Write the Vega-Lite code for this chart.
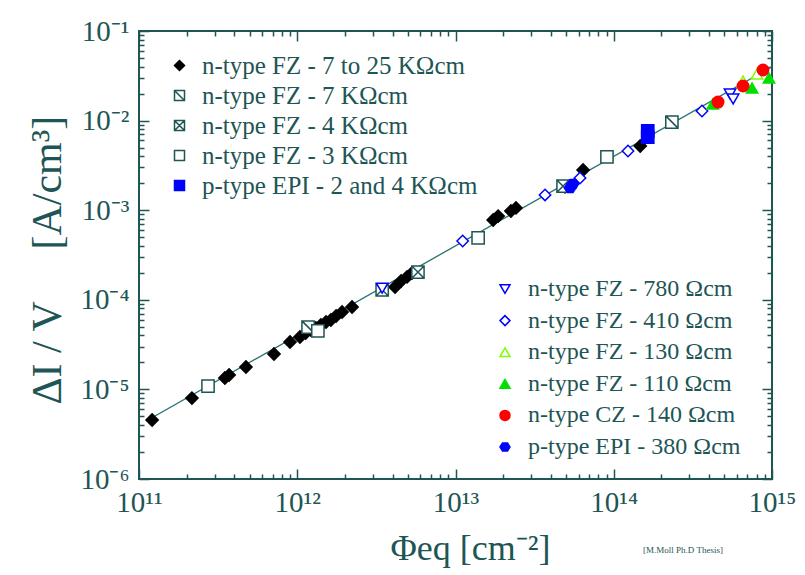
{
  "$schema": "https://vega.github.io/schema/vega-lite/v6.json",
  "width": 633,
  "height": 448,
  "autosize": {"type": "none"},
  "padding": {"left": 139, "top": 31, "right": 33, "bottom": 96},
  "background": "white",
  "config": {
    "font": "Times New Roman, Liberation Serif, serif",
    "view": {"stroke": "#1e5555", "strokeWidth": 2},
    "axis": {
      "labelFont": "Times New Roman, Liberation Serif, serif",
      "titleFont": "Times New Roman, Liberation Serif, serif",
      "labelColor": "#1e5555",
      "titleColor": "#1e5555",
      "tickColor": "#1e5555",
      "tickWidth": 1.5,
      "domain": false,
      "grid": false,
      "titleFontWeight": "normal"
    },
    "legend": {
      "labelFont": "Times New Roman, Liberation Serif, serif",
      "labelFontSize": 25,
      "labelColor": "#1e5555",
      "labelOffset": 10,
      "labelLimit": 0,
      "symbolStrokeWidth": 1.5,
      "symbolSize": 100,
      "padding": 0,
      "titlePadding": 0
    }
  },
  "title": {
    "text": "[M.Moll Ph.D Thesis]",
    "orient": "bottom",
    "anchor": "end",
    "fontSize": 9,
    "font": "Times New Roman, Liberation Serif, serif",
    "fontWeight": "normal",
    "color": "#1e5555",
    "dx": -73,
    "dy": -24
  },
  "datasets": {
    "fit": [
      {"phi": 1.2e11, "dv": 4.8e-6},
      {"phi": 1e15, "dv": 4e-2}
    ],
    "g1": [
      {"phi": 1.21e11, "dv": 4.55e-6, "series": "n-type FZ - 7 to 25 KΩcm"},
      {"phi": 2.16e11, "dv": 8.0e-6, "series": "n-type FZ - 7 to 25 KΩcm"},
      {"phi": 3.49e11, "dv": 1.34e-5, "series": "n-type FZ - 7 to 25 KΩcm"},
      {"phi": 3.71e11, "dv": 1.45e-5, "series": "n-type FZ - 7 to 25 KΩcm"},
      {"phi": 4.74e11, "dv": 1.78e-5, "series": "n-type FZ - 7 to 25 KΩcm"},
      {"phi": 7.13e11, "dv": 2.48e-5, "series": "n-type FZ - 7 to 25 KΩcm"},
      {"phi": 9.0e11, "dv": 3.38e-5, "series": "n-type FZ - 7 to 25 KΩcm"},
      {"phi": 1.04e12, "dv": 3.85e-5, "series": "n-type FZ - 7 to 25 KΩcm"},
      {"phi": 1.13e12, "dv": 4.25e-5, "series": "n-type FZ - 7 to 25 KΩcm"},
      {"phi": 1.22e12, "dv": 4.6e-5, "series": "n-type FZ - 7 to 25 KΩcm"},
      {"phi": 1.31e12, "dv": 4.85e-5, "series": "n-type FZ - 7 to 25 KΩcm"},
      {"phi": 1.41e12, "dv": 5.23e-5, "series": "n-type FZ - 7 to 25 KΩcm"},
      {"phi": 1.52e12, "dv": 5.65e-5, "series": "n-type FZ - 7 to 25 KΩcm"},
      {"phi": 1.63e12, "dv": 5.95e-5, "series": "n-type FZ - 7 to 25 KΩcm"},
      {"phi": 1.76e12, "dv": 6.6e-5, "series": "n-type FZ - 7 to 25 KΩcm"},
      {"phi": 1.92e12, "dv": 7.3e-5, "series": "n-type FZ - 7 to 25 KΩcm"},
      {"phi": 2.22e12, "dv": 8.3e-5, "series": "n-type FZ - 7 to 25 KΩcm"},
      {"phi": 4.15e12, "dv": 1.39e-4, "series": "n-type FZ - 7 to 25 KΩcm"},
      {"phi": 4.53e12, "dv": 1.62e-4, "series": "n-type FZ - 7 to 25 KΩcm"},
      {"phi": 4.94e12, "dv": 1.8e-4, "series": "n-type FZ - 7 to 25 KΩcm"},
      {"phi": 5.31e12, "dv": 1.99e-4, "series": "n-type FZ - 7 to 25 KΩcm"},
      {"phi": 1.73e13, "dv": 7.78e-4, "series": "n-type FZ - 7 to 25 KΩcm"},
      {"phi": 1.86e13, "dv": 8.6e-4, "series": "n-type FZ - 7 to 25 KΩcm"},
      {"phi": 2.24e13, "dv": 9.8e-4, "series": "n-type FZ - 7 to 25 KΩcm"},
      {"phi": 2.41e13, "dv": 1.06e-3, "series": "n-type FZ - 7 to 25 KΩcm"},
      {"phi": 4.92e13, "dv": 1.82e-3, "series": "n-type FZ - 7 to 25 KΩcm"},
      {"phi": 6.4e13, "dv": 2.81e-3, "series": "n-type FZ - 7 to 25 KΩcm"},
      {"phi": 1.47e14, "dv": 5.21e-3, "series": "n-type FZ - 7 to 25 KΩcm"},
      {"phi": 1.17e12, "dv": 4.97e-5, "series": "n-type FZ - 7 KΩcm"},
      {"phi": 2.33e14, "dv": 9.64e-3, "series": "n-type FZ - 7 KΩcm"},
      {"phi": 3.44e12, "dv": 1.29e-4, "series": "n-type FZ - 4 KΩcm"},
      {"phi": 5.79e12, "dv": 2.04e-4, "series": "n-type FZ - 4 KΩcm"},
      {"phi": 4.78e13, "dv": 1.86e-3, "series": "n-type FZ - 4 KΩcm"},
      {"phi": 2.73e11, "dv": 1.09e-5, "series": "n-type FZ - 3 KΩcm"},
      {"phi": 1.35e12, "dv": 4.49e-5, "series": "n-type FZ - 3 KΩcm"},
      {"phi": 1.39e13, "dv": 4.9e-4, "series": "n-type FZ - 3 KΩcm"},
      {"phi": 9.06e13, "dv": 3.93e-3, "series": "n-type FZ - 3 KΩcm"},
      {"phi": 1.64e14, "dv": 7.66e-3, "series": "p-type EPI - 2 and 4 KΩcm"},
      {"phi": 1.64e14, "dv": 6.56e-3, "series": "p-type EPI - 2 and 4 KΩcm"}
    ],
    "g2": [
      {"phi": 3.44e12, "dv": 1.35e-4, "series": "n-type FZ - 780 Ωcm"},
      {"phi": 5.43e14, "dv": 1.98e-2, "series": "n-type FZ - 780 Ωcm"},
      {"phi": 5.68e14, "dv": 1.74e-2, "series": "n-type FZ - 780 Ωcm"},
      {"phi": 1.11e13, "dv": 4.53e-4, "series": "n-type FZ - 410 Ωcm"},
      {"phi": 3.68e13, "dv": 1.48e-3, "series": "n-type FZ - 410 Ωcm"},
      {"phi": 6.12e13, "dv": 2.29e-3, "series": "n-type FZ - 410 Ωcm"},
      {"phi": 1.23e14, "dv": 4.58e-3, "series": "n-type FZ - 410 Ωcm"},
      {"phi": 3.61e14, "dv": 1.28e-2, "series": "n-type FZ - 410 Ωcm"},
      {"phi": 6.56e14, "dv": 2.77e-2, "series": "n-type FZ - 130 Ωcm"},
      {"phi": 8.04e14, "dv": 3.31e-2, "series": "n-type FZ - 130 Ωcm"},
      {"phi": 4.22e14, "dv": 1.53e-2, "series": "n-type FZ - 110 Ωcm"},
      {"phi": 7.48e14, "dv": 2.31e-2, "series": "n-type FZ - 110 Ωcm"},
      {"phi": 9.57e14, "dv": 2.99e-2, "series": "n-type FZ - 110 Ωcm"},
      {"phi": 4.56e14, "dv": 1.61e-2, "series": "n-type CZ - 140 Ωcm"},
      {"phi": 6.56e14, "dv": 2.43e-2, "series": "n-type CZ - 140 Ωcm"},
      {"phi": 8.77e14, "dv": 3.67e-2, "series": "n-type CZ - 140 Ωcm"},
      {"phi": 5.52e13, "dv": 1.96e-3, "series": "p-type EPI - 380 Ωcm"},
      {"phi": 5.3e13, "dv": 1.77e-3, "series": "p-type EPI - 380 Ωcm"}
    ]
  },
  "layer": [
    {
      "data": {"name": "fit"},
      "mark": {"type": "line", "color": "#267070", "strokeWidth": 1.3},
      "encoding": {
        "x": {
          "field": "phi", "type": "quantitative",
          "scale": {"type": "log", "domain": [1e11, 1e15], "nice": false},
          "axis": {
            "orient": "bottom",
            "values": [1e11, 1e12, 1e13, 1e14, 1e15],
            "tickSize": -10,
            "labelPadding": 19,
            "labelFontSize": 29,
            "labelExpr": "['10¹¹','10¹²','10¹³','10¹⁴','10¹⁵'][round(log(datum.value)/LN10)-11]",
            "labelFlush": false,
            "labelOverlap": false,
            "title": "Φeq [cm⁻²]",
            "titleFontSize": 36,
            "titleBaseline": "alphabetic",
            "titleX": 331,
            "titleY": 80
          }
        },
        "y": {
          "field": "dv", "type": "quantitative",
          "scale": {"type": "log", "domain": [1e-6, 1e-1], "nice": false},
          "axis": {
            "orient": "left",
            "values": [1e-6, 1e-5, 1e-4, 1e-3, 1e-2, 1e-1],
            "tickSize": -10,
            "labelPadding": 20,
            "labelFontSize": 29,
            "labelExpr": "['10⁻⁶','10⁻⁵','10⁻⁴','10⁻³','10⁻²','10⁻¹'][round(log(datum.value)/LN10)+6]",
            "labelFlush": false,
            "labelOverlap": false,
            "title": "ΔI / V \u2003[A/cm³]",
            "titleFontSize": 42,
            "titleBaseline": "alphabetic",
            "titleAngle": -90,
            "titleAlign": "left",
            "titleX": -79,
            "titleY": 373
          }
        }
      }
    },
    {
      "data": {"name": "g1"},
      "mark": {"type": "point", "strokeWidth": 1.5, "size": 150, "opacity": 1},
      "encoding": {
        "x": {
          "field": "phi", "type": "quantitative",
          "scale": {"type": "log", "domain": [1e11, 1e15], "nice": false},
          "axis": {
            "orient": "bottom",
            "values": [2e11, 3e11, 4e11, 5e11, 6e11, 7e11, 8e11, 9e11, 2e12, 3e12, 4e12, 5e12, 6e12, 7e12, 8e12, 9e12, 2e13, 3e13, 4e13, 5e13, 6e13, 7e13, 8e13, 9e13, 2e14, 3e14, 4e14, 5e14, 6e14, 7e14, 8e14, 9e14],
            "tickSize": -5,
            "labels": false,
            "title": null
          }
        },
        "y": {
          "field": "dv", "type": "quantitative",
          "scale": {"type": "log", "domain": [1e-6, 1e-1], "nice": false},
          "axis": {
            "orient": "left",
            "values": [2e-6, 3e-6, 4e-6, 5e-6, 6e-6, 7e-6, 8e-6, 9e-6, 2e-5, 3e-5, 4e-5, 5e-5, 6e-5, 7e-5, 8e-5, 9e-5, 2e-4, 3e-4, 4e-4, 5e-4, 6e-4, 7e-4, 8e-4, 9e-4, 2e-3, 3e-3, 4e-3, 5e-3, 6e-3, 7e-3, 8e-3, 9e-3, 2e-2, 3e-2, 4e-2, 5e-2, 6e-2, 7e-2, 8e-2, 9e-2],
            "tickSize": -5,
            "labels": false,
            "title": null
          }
        },
        "shape": {
          "field": "series", "type": "nominal",
          "scale": {
            "domain": ["n-type FZ - 7 to 25 KΩcm", "n-type FZ - 7 KΩcm", "n-type FZ - 4 KΩcm", "n-type FZ - 3 KΩcm", "p-type EPI - 2 and 4 KΩcm"],
            "range": ["diamond", "M-1,-1H1V1H-1Z M-1,-1L1,1", "M-1,-1H1V1H-1Z M-1,-1L1,1 M1,-1L-1,1", "square", "square"]
          },
          "legend": {"title": null, "orient": "none", "legendX": 28, "legendY": 22, "rowPadding": 4}
        },
        "fill": {
          "field": "series", "type": "nominal",
          "scale": {
            "domain": ["n-type FZ - 7 to 25 KΩcm", "n-type FZ - 7 KΩcm", "n-type FZ - 4 KΩcm", "n-type FZ - 3 KΩcm", "p-type EPI - 2 and 4 KΩcm"],
            "range": ["#000000", "#ffffff", "#ffffff", "#ffffff", "#0000ff"]
          },
          "legend": {"title": null, "orient": "none", "legendX": 28, "legendY": 22, "rowPadding": 4}
        },
        "stroke": {
          "field": "series", "type": "nominal",
          "scale": {
            "domain": ["n-type FZ - 7 to 25 KΩcm", "n-type FZ - 7 KΩcm", "n-type FZ - 4 KΩcm", "n-type FZ - 3 KΩcm", "p-type EPI - 2 and 4 KΩcm"],
            "range": ["#000000", "#1e5555", "#1e5555", "#1e5555", "#0000ff"]
          },
          "legend": {"title": null, "orient": "none", "legendX": 28, "legendY": 22, "rowPadding": 4}
        }
      }
    },
    {
      "data": {"name": "g2"},
      "mark": {"type": "point", "strokeWidth": 1.5, "size": 130, "opacity": 1},
      "encoding": {
        "x": {
          "field": "phi", "type": "quantitative",
          "scale": {"type": "log", "domain": [1e11, 1e15], "nice": false},
          "axis": {
            "orient": "top",
            "values": [1e11, 1e12, 1e13, 1e14, 1e15],
            "tickSize": -10,
            "labels": false,
            "title": null
          }
        },
        "y": {
          "field": "dv", "type": "quantitative",
          "scale": {"type": "log", "domain": [1e-6, 1e-1], "nice": false},
          "axis": {
            "orient": "right",
            "values": [1e-6, 1e-5, 1e-4, 1e-3, 1e-2, 1e-1],
            "tickSize": -10,
            "labels": false,
            "title": null
          }
        },
        "shape": {
          "field": "series", "type": "nominal",
          "scale": {
            "domain": ["n-type FZ - 780 Ωcm", "n-type FZ - 410 Ωcm", "n-type FZ - 130 Ωcm", "n-type FZ - 110 Ωcm", "n-type CZ - 140 Ωcm", "p-type EPI - 380 Ωcm"],
            "range": ["triangle-down", "diamond", "triangle-up", "triangle-up", "circle", "M-1,0L-0.5,-0.8L0.5,-0.8L1,0L0.5,0.8L-0.5,0.8Z"]
          },
          "legend": {"title": null, "orient": "none", "legendX": 354, "legendY": 246, "rowPadding": 7.6, "labelFontSize": 24, "labelOffset": 11}
        },
        "fill": {
          "field": "series", "type": "nominal",
          "scale": {
            "domain": ["n-type FZ - 780 Ωcm", "n-type FZ - 410 Ωcm", "n-type FZ - 130 Ωcm", "n-type FZ - 110 Ωcm", "n-type CZ - 140 Ωcm", "p-type EPI - 380 Ωcm"],
            "range": ["#ffffff", "#ffffff", "#ffffff", "#00e000", "#ff0000", "#0000ff"]
          },
          "legend": {"title": null, "orient": "none", "legendX": 354, "legendY": 246, "rowPadding": 7.6, "labelFontSize": 24, "labelOffset": 11}
        },
        "stroke": {
          "field": "series", "type": "nominal",
          "scale": {
            "domain": ["n-type FZ - 780 Ωcm", "n-type FZ - 410 Ωcm", "n-type FZ - 130 Ωcm", "n-type FZ - 110 Ωcm", "n-type CZ - 140 Ωcm", "p-type EPI - 380 Ωcm"],
            "range": ["#0000ff", "#0000ff", "#7fff00", "#00e000", "#ff0000", "#0000ff"]
          },
          "legend": {"title": null, "orient": "none", "legendX": 354, "legendY": 246, "rowPadding": 7.6, "labelFontSize": 24, "labelOffset": 11}
        }
      }
    },
    {
      "data": {"name": "fit"},
      "mark": {"type": "line", "opacity": 0},
      "encoding": {
        "x": {
          "field": "phi", "type": "quantitative",
          "scale": {"type": "log", "domain": [1e11, 1e15], "nice": false},
          "axis": {
            "orient": "top",
            "values": [2e11, 3e11, 4e11, 5e11, 6e11, 7e11, 8e11, 9e11, 2e12, 3e12, 4e12, 5e12, 6e12, 7e12, 8e12, 9e12, 2e13, 3e13, 4e13, 5e13, 6e13, 7e13, 8e13, 9e13, 2e14, 3e14, 4e14, 5e14, 6e14, 7e14, 8e14, 9e14],
            "tickSize": -5,
            "labels": false,
            "title": null
          }
        },
        "y": {
          "field": "dv", "type": "quantitative",
          "scale": {"type": "log", "domain": [1e-6, 1e-1], "nice": false},
          "axis": {
            "orient": "right",
            "values": [2e-6, 3e-6, 4e-6, 5e-6, 6e-6, 7e-6, 8e-6, 9e-6, 2e-5, 3e-5, 4e-5, 5e-5, 6e-5, 7e-5, 8e-5, 9e-5, 2e-4, 3e-4, 4e-4, 5e-4, 6e-4, 7e-4, 8e-4, 9e-4, 2e-3, 3e-3, 4e-3, 5e-3, 6e-3, 7e-3, 8e-3, 9e-3, 2e-2, 3e-2, 4e-2, 5e-2, 6e-2, 7e-2, 8e-2, 9e-2],
            "tickSize": -5,
            "labels": false,
            "title": null
          }
        }
      }
    }
  ],
  "resolve": {
    "scale": {"shape": "independent", "fill": "independent", "stroke": "independent"},
    "axis": {"x": "independent", "y": "independent"}
  }
}
